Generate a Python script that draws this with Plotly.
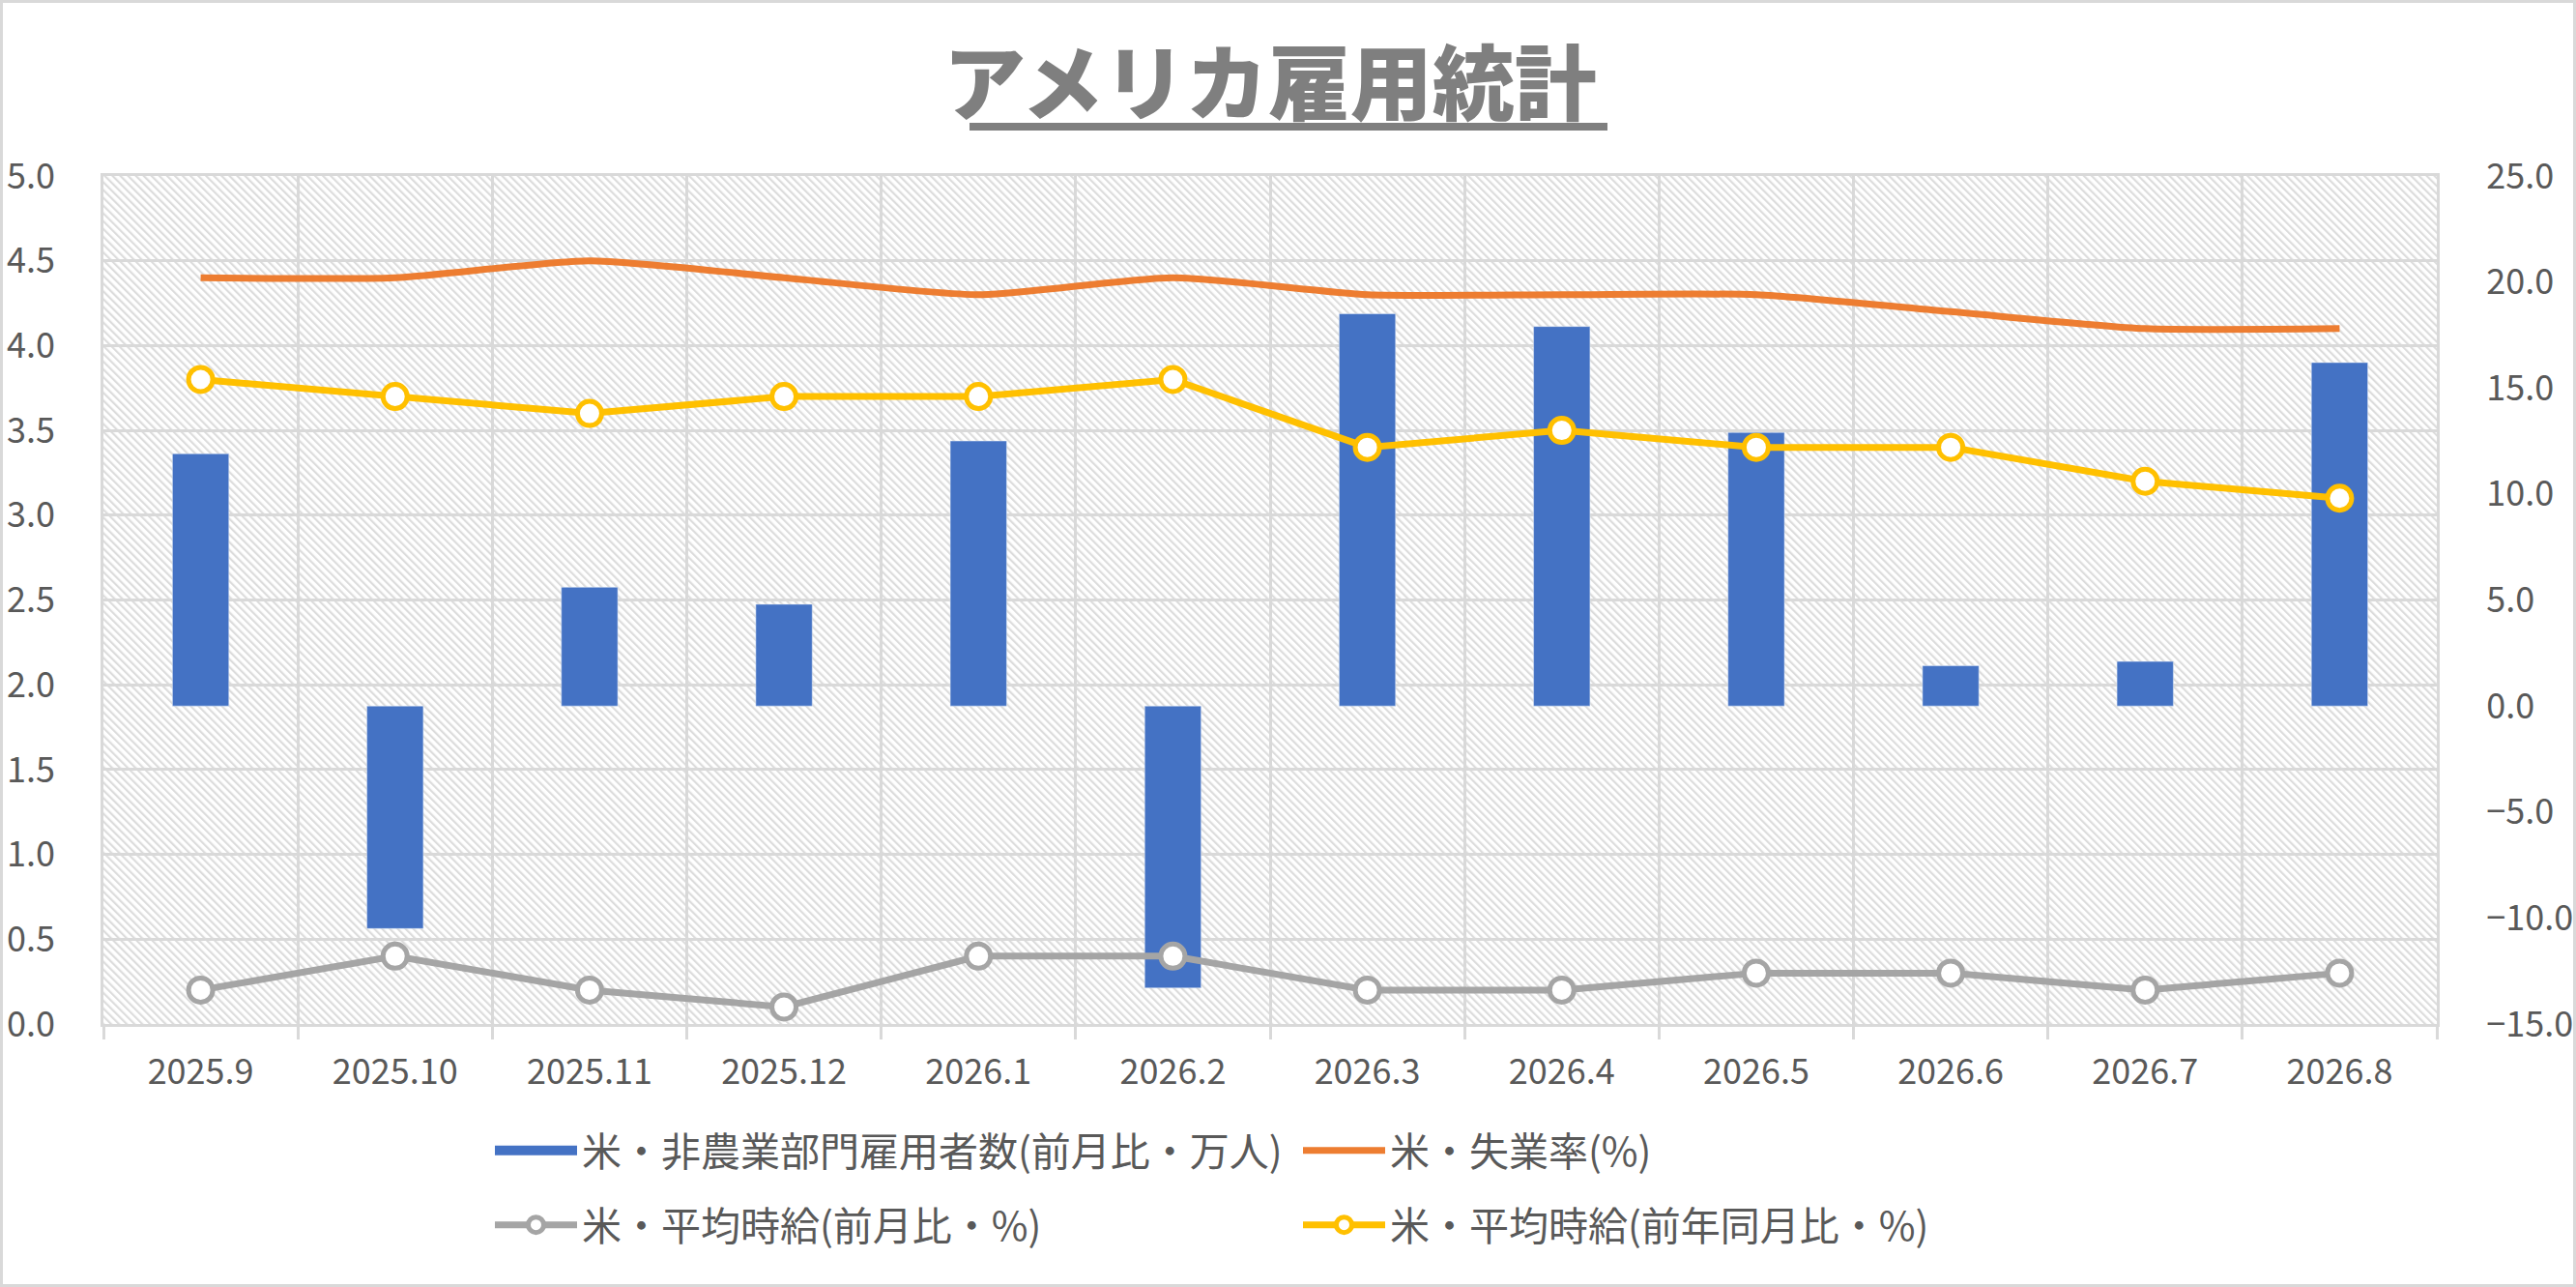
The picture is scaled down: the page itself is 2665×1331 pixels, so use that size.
import base64
import plotly.graph_objects as go

# ---------------- data ----------------
months = ["2025.9", "2025.10", "2025.11", "2025.12", "2026.1", "2026.2",
          "2026.3", "2026.4", "2026.5", "2026.6", "2026.7", "2026.8"]
nfp = [11.9, -10.5, 5.6, 4.8, 12.5, -13.3, 18.5, 17.9, 12.9, 1.9, 2.1, 16.2]
unemp = [4.4, 4.4, 4.5, 4.4, 4.3, 4.4, 4.3, 4.3, 4.3, 4.2, 4.1, 4.1]
wage_mom = [0.2, 0.4, 0.2, 0.1, 0.4, 0.4, 0.2, 0.2, 0.3, 0.3, 0.2, 0.3]
wage_yoy = [3.8, 3.7, 3.6, 3.7, 3.7, 3.8, 3.4, 3.5, 3.4, 3.4, 3.2, 3.1]

series_names = ["米・非農業部門雇用者数(前月比・万人)", "米・失業率(%)",
                "米・平均時給(前月比・%)", "米・平均時給(前年同月比・%)"]
title_text = "アメリカ雇用統計"

# ---------------- geometry / style ----------------
W, H = 2665, 1331
ML, MR, MT, MB = 107, 144, 182, 272
PW, PH = W - ML - MR, H - MT - MB
FONT = "Noto Sans CJK JP"
TXT = "#595959"
GRID = "#d9d9d9"

BLUE, ORANGE, GRAY, YELLOW = "#4472C4", "#ED7D31", "#A5A5A5", "#FFC000"

# hatch pattern for plot background
svg = (f'<svg xmlns="http://www.w3.org/2000/svg" width="{PW}" height="{PH}" '
       f'viewBox="0 0 {PW} {PH}"><defs><pattern id="h" patternUnits="userSpaceOnUse" '
       f'width="5.7" height="5.7" patternTransform="rotate(-45)">'
       f'<rect x="0" y="0" width="2.2" height="5.7" fill="#dcdcdc"/></pattern></defs>'
       f'<rect width="100%" height="100%" fill="white"/>'
       f'<rect width="100%" height="100%" fill="url(#h)"/></svg>')
hatch_src = "data:image/svg+xml;base64," + base64.b64encode(svg.encode()).decode()

fig = go.Figure()

fig.add_trace(go.Bar(x=months, y=nfp, name=series_names[0], marker_color=BLUE,
                     yaxis="y", showlegend=False, legendgroup="nfp"))
# legend entry for the bars (wide rectangular key like the original)
fig.add_trace(go.Scatter(x=[months[0]], y=[None], name=series_names[0], mode="lines",
                         line=dict(color=BLUE, width=22), yaxis="y",
                         legendgroup="nfp", legend="legend", hoverinfo="skip"))
fig.add_trace(go.Scatter(x=months, y=unemp, name=series_names[1], mode="lines",
                         line=dict(color=ORANGE, width=7, shape="spline", smoothing=0.6),
                         yaxis="y2", legend="legend2"))
fig.add_trace(go.Scatter(x=months, y=wage_mom, name=series_names[2], mode="lines+markers",
                         line=dict(color=GRAY, width=7),
                         marker=dict(size=25, color="white", line=dict(color=GRAY, width=5)),
                         yaxis="y2", legend="legend3"))
fig.add_trace(go.Scatter(x=months, y=wage_yoy, name=series_names[3], mode="lines+markers",
                         line=dict(color=YELLOW, width=7),
                         marker=dict(size=25, color="white", line=dict(color=YELLOW, width=5)),
                         yaxis="y2", legend="legend4"))

def px_x(px):
    return (px - ML) / PW

def px_y(py):
    return 1 - (py - MT) / PH

leg_common = dict(orientation="h", xanchor="left", yanchor="middle",
                  font=dict(family=FONT, size=41, color=TXT), itemwidth=85,
                  bgcolor="rgba(0,0,0,0)")

fig.update_layout(
    width=W, height=H,
    margin=dict(l=ML, r=MR, t=MT, b=MB, autoexpand=False),
    paper_bgcolor="white", plot_bgcolor="white",
    font=dict(family=FONT, color=TXT),
    bargap=0.71,
    showlegend=True,
    title=dict(text=title_text, x=0.5, xanchor="center", xref="paper",
               y=1 - 88 / H, yanchor="middle", yref="container", automargin=False,
               font=dict(family=FONT, size=85, color="#7F7F7F", weight=900)),
    xaxis=dict(type="category", tickson="boundaries", range=[-0.5, 11.5],
               automargin=False,
               showgrid=True, gridcolor=GRID, gridwidth=3,
               ticks="outside", ticklen=13, tickcolor=GRID, tickwidth=3,
               showline=True, linecolor=GRID, linewidth=3, mirror=True,
               tickfont=dict(family=FONT, size=36, color=TXT),
               ticklabelstandoff=16),
    yaxis=dict(side="right", range=[-15, 25], tick0=-15, dtick=5, tickformat=".1f",
               automargin=False,
               showgrid=False, zeroline=False, ticks="",
               showline=True, linecolor=GRID, linewidth=3, mirror=True,
               tickfont=dict(family=FONT, size=36, color=TXT),
               ticklabelstandoff=41),
    yaxis2=dict(overlaying="y", side="left", range=[0, 5], tick0=0, dtick=0.5,
                automargin=False,
                tickformat=".1f", showgrid=True, gridcolor=GRID, gridwidth=3,
                zeroline=False, ticks="",
                tickfont=dict(family=FONT, size=36, color=TXT),
                ticklabelstandoff=49),
    legend=dict(x=px_x(507), y=px_y(1190), **leg_common),
    legend2=dict(x=px_x(1343), y=px_y(1190), **leg_common),
    legend3=dict(x=px_x(507), y=px_y(1267), **leg_common),
    legend4=dict(x=px_x(1343), y=px_y(1267), **leg_common),
    images=[dict(source=hatch_src, xref="paper", yref="paper", x=0, y=1,
                 sizex=1, sizey=1, xanchor="left", yanchor="top",
                 sizing="stretch", layer="below")],
    shapes=[
        # outer chart border
        dict(type="rect", xref="paper", yref="paper",
             x0=-(ML - 1.5) / PW, x1=1 + (MR - 1.5) / PW,
             y0=-(MB - 1.5) / PH, y1=1 + (MT - 1.5) / PH,
             line=dict(color=GRID, width=3), fillcolor="rgba(0,0,0,0)", layer="below"),
        # title underline
        dict(type="line", xref="paper", yref="paper",
             x0=px_x(1003), x1=px_x(1663), y0=px_y(131), y1=px_y(131),
             line=dict(color="#7F7F7F", width=8)),
    ],
)

fig.write_html("out.html", config={"displayModeBar": False},
               post_script="document.body.style.margin='0';")
